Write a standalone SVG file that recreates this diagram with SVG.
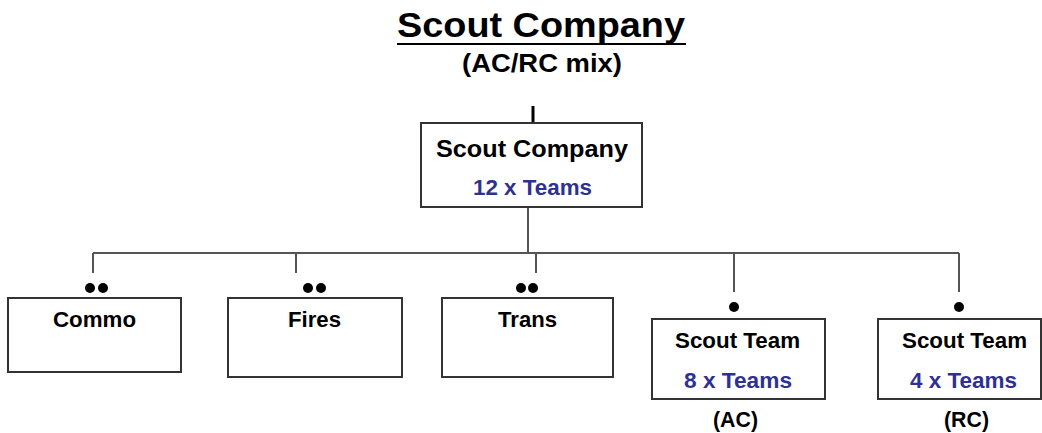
<svg xmlns="http://www.w3.org/2000/svg" width="1042" height="433" viewBox="0 0 1042 433">
<style>
text{font-family:"Liberation Sans",Arial,sans-serif;font-weight:bold;fill:#000}
.blue{fill:#2e3192}
.box{fill:#fff;stroke:#333;stroke-width:2}
.con{stroke:#555;stroke-width:2;fill:none}
.dot{fill:#000}
</style>
<rect width="1042" height="433" fill="#fff"/>
<g id="title">
<text x="397" y="37" font-size="35" textLength="288" lengthAdjust="spacingAndGlyphs">Scout Company</text>
<line x1="397" y1="44" x2="686" y2="44" stroke="#000" stroke-width="2"/>
<text x="462" y="72" font-size="25" textLength="160" lengthAdjust="spacingAndGlyphs">(AC/RC mix)</text>
</g>
<g id="connectors">
<line x1="533" y1="106" x2="533" y2="123" stroke="#000" stroke-width="3"/>
<line class="con" x1="528" y1="207" x2="528" y2="253"/>
<line class="con" x1="93" y1="253" x2="959" y2="253"/>
<line class="con" x1="93" y1="253" x2="93" y2="273"/>
<line class="con" x1="296" y1="253" x2="296" y2="273"/>
<line class="con" x1="536" y1="253" x2="536" y2="273"/>
<line class="con" x1="734" y1="253" x2="734" y2="292"/>
<line class="con" x1="959" y1="253" x2="959" y2="292"/>
</g>
<g id="scout-company">
<rect class="box" x="421" y="123" width="221" height="84"/>
<text x="436" y="157" font-size="23" textLength="192" lengthAdjust="spacingAndGlyphs">Scout Company</text>
<text class="blue" x="473" y="195" font-size="22" textLength="119" lengthAdjust="spacingAndGlyphs">12 x Teams</text>
</g>
<g id="commo">
<circle class="dot" cx="90" cy="288" r="5"/><circle class="dot" cx="103" cy="288" r="5"/>
<rect class="box" x="8" y="298" width="173" height="74"/>
<text x="53" y="327" font-size="22" textLength="83" lengthAdjust="spacingAndGlyphs">Commo</text>
</g>
<g id="fires">
<circle class="dot" cx="308" cy="288" r="5"/><circle class="dot" cx="321" cy="288" r="5"/>
<rect class="box" x="228" y="298" width="174" height="79"/>
<text x="288" y="327" font-size="22" textLength="53" lengthAdjust="spacingAndGlyphs">Fires</text>
</g>
<g id="trans">
<circle class="dot" cx="521" cy="288" r="5"/><circle class="dot" cx="533" cy="288" r="5"/>
<rect class="box" x="442" y="298" width="171" height="79"/>
<text x="498" y="327" font-size="22" textLength="59" lengthAdjust="spacingAndGlyphs">Trans</text>
</g>
<g id="scout-team-ac">
<circle class="dot" cx="734" cy="307" r="5"/>
<rect class="box" x="652" y="319" width="173" height="80"/>
<text x="675" y="348" font-size="22" textLength="125" lengthAdjust="spacingAndGlyphs">Scout Team</text>
<text class="blue" x="684" y="388" font-size="22" textLength="108" lengthAdjust="spacingAndGlyphs">8 x Teams</text>
<text x="713" y="427" font-size="22" textLength="45" lengthAdjust="spacingAndGlyphs">(AC)</text>
</g>
<g id="scout-team-rc">
<circle class="dot" cx="959" cy="307" r="5"/>
<rect class="box" x="878" y="319" width="163" height="80"/>
<text x="902" y="348" font-size="22" textLength="125" lengthAdjust="spacingAndGlyphs">Scout Team</text>
<text class="blue" x="910" y="388" font-size="22" textLength="107" lengthAdjust="spacingAndGlyphs">4 x Teams</text>
<text x="944" y="427" font-size="22" textLength="45" lengthAdjust="spacingAndGlyphs">(RC)</text>
</g>
</svg>
